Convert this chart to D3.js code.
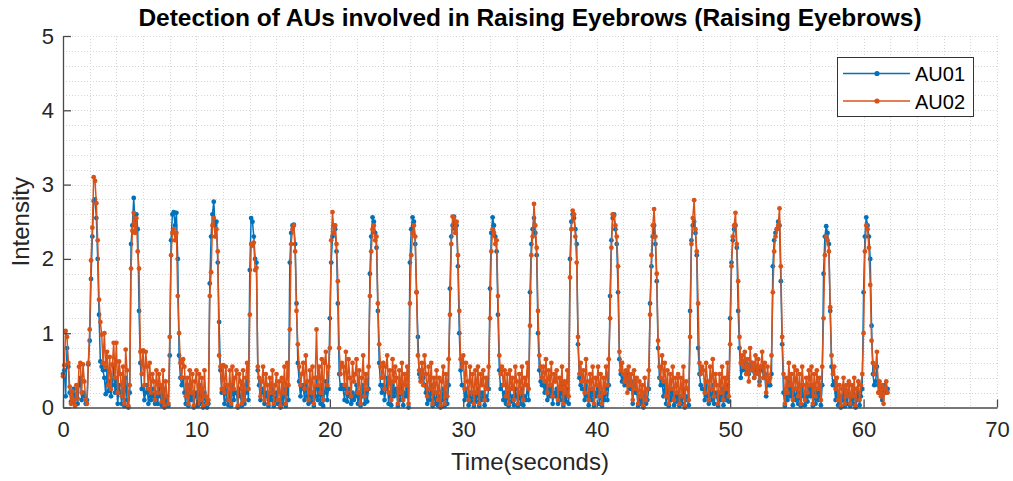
<!DOCTYPE html>
<html>
<head>
<meta charset="utf-8">
<script src="https://cdn.jsdelivr.net/npm/d3@7"></script>
<style>
  body { margin: 0; background: #ffffff; }
  text { font-family: "Liberation Sans", Arial, Helvetica, sans-serif; }
</style>
</head>
<body>
<svg id="chart" width="1013" height="481"></svg>
<script>
// Facial action unit intensities, sampled every 0.1 s (one row per second)
const sampleInterval = 0.1;

const au01 = [
  0.45,0.50,0.15,0.80,0.55,0.20,0.08,0.10,0.25,0.05,
  0.18,0.05,0.30,0.40,0.10,0.20,0.15,0.05,0.10,0.58,
  0.90,1.73,2.30,2.78,2.80,2.55,2.00,1.25,0.62,0.55,
  0.50,0.40,0.18,0.50,0.22,0.35,0.15,0.30,0.55,0.20,
  0.35,0.05,0.30,0.20,0.05,0.25,0.02,0.40,0.10,0.00,
  0.20,2.20,2.45,2.82,2.50,2.60,2.40,1.30,0.60,0.25,
  0.25,0.10,0.20,0.30,0.05,0.20,0.10,0.25,0.15,0.05,
  0.20,0.05,0.30,0.15,0.03,0.25,0.00,0.10,0.05,0.02,
  0.70,2.25,2.60,2.63,2.45,2.62,2.00,0.70,0.40,0.30,
  0.40,0.20,0.05,0.30,0.02,0.25,0.10,0.20,0.00,0.15,
  0.20,0.02,0.30,0.05,0.25,0.00,0.20,0.05,0.00,0.05,
  1.67,2.30,2.60,2.77,2.45,2.50,1.95,1.15,0.50,0.20,
  0.25,0.05,0.30,0.10,0.03,0.20,0.02,0.30,0.10,0.20,
  0.20,0.00,0.25,0.15,0.02,0.30,0.05,0.20,0.35,0.10,
  1.85,2.55,2.50,2.30,2.00,1.95,0.50,0.30,0.10,0.20,
  0.25,0.05,0.20,0.15,0.02,0.15,0.10,0.25,0.02,0.10,
  0.20,0.05,0.10,0.00,0.20,0.05,0.25,0.02,0.30,0.10,
  1.95,2.35,2.45,2.46,2.20,1.40,0.60,0.35,0.15,0.25,
  0.30,0.10,0.30,0.15,0.05,0.25,0.08,0.20,0.02,0.15,
  0.40,0.10,0.25,0.05,0.30,0.02,0.20,0.35,0.10,0.25,
  1.20,1.95,2.30,2.45,2.40,2.10,1.40,0.45,0.25,0.30,
  0.25,0.10,0.30,0.08,0.25,0.15,0.05,0.20,0.10,0.15,
  0.30,0.05,0.20,0.02,0.15,0.30,0.05,0.20,0.08,0.25,
  1.80,2.30,2.56,2.50,2.35,2.15,1.30,0.60,0.30,0.20,
  0.30,0.10,0.25,0.40,0.05,0.20,0.03,0.30,0.15,0.25,
  0.20,0.02,0.25,0.10,0.30,0.03,0.20,0.15,0.25,0.00,
  1.95,2.40,2.56,2.50,2.20,1.55,0.95,0.45,0.40,0.50,
  0.40,0.30,0.20,0.05,0.25,0.10,0.30,0.02,0.20,0.05,
  0.20,0.03,0.15,0.00,0.10,0.25,0.02,0.20,0.05,0.30,
  1.60,2.30,2.45,2.57,2.40,2.45,1.90,1.00,0.50,0.30,
  0.30,0.10,0.25,0.15,0.03,0.20,0.08,0.20,0.02,0.20,
  0.08,0.25,0.02,0.20,0.10,0.20,0.03,0.15,0.10,0.25,
  1.60,2.35,2.56,2.45,2.30,2.10,1.25,0.50,0.25,0.30,
  0.10,0.20,0.05,0.20,0.02,0.25,0.08,0.15,0.03,0.25,
  0.15,0.02,0.20,0.05,0.25,0.03,0.15,0.10,0.30,0.10,
  1.55,2.20,2.40,2.55,2.35,2.05,1.00,0.50,0.35,0.30,
  0.30,0.20,0.35,0.10,0.25,0.15,0.30,0.05,0.20,0.15,
  0.25,0.05,0.20,0.10,0.30,0.02,0.15,0.08,0.25,0.05,
  2.00,2.50,2.60,2.55,2.40,2.20,0.85,0.40,0.30,0.25,
  0.25,0.10,0.30,0.15,0.03,0.20,0.10,0.25,0.02,0.20,
  0.15,0.25,0.05,0.20,0.02,0.15,0.10,0.25,0.10,0.30,
  1.50,2.25,2.55,2.60,2.40,2.20,1.55,0.65,0.45,0.35,
  0.40,0.30,0.45,0.35,0.40,0.25,0.30,0.05,0.35,0.20,
  0.20,0.02,0.15,0.05,0.15,0.00,0.20,0.05,0.10,0.25,
  1.40,1.90,2.30,2.45,2.20,1.70,0.80,0.40,0.30,0.35,
  0.15,0.30,0.05,0.25,0.02,0.20,0.10,0.25,0.03,0.15,
  0.08,0.20,0.02,0.15,0.05,0.25,0.00,0.15,0.10,0.03,
  1.30,2.25,2.45,2.50,2.35,2.05,0.80,0.45,0.30,0.25,
  0.25,0.10,0.30,0.15,0.05,0.25,0.10,0.30,0.05,0.20,
  0.15,0.02,0.20,0.10,0.25,0.03,0.20,0.10,0.30,0.08,
  1.20,1.95,2.25,2.40,2.45,2.15,1.30,0.80,0.40,0.50,
  0.55,0.60,0.50,0.58,0.45,0.55,0.60,0.50,0.40,0.55,
  0.50,0.55,0.35,0.50,0.55,0.40,0.45,0.15,0.35,0.30,
  0.30,0.45,1.90,2.25,2.35,2.40,2.50,2.45,1.70,0.85,
  0.20,0.02,0.20,0.10,0.35,0.15,0.25,0.03,0.25,0.10,
  0.25,0.05,0.20,0.02,0.30,0.15,0.03,0.20,0.08,0.25,
  0.15,0.30,0.02,0.20,0.05,0.25,0.10,0.20,0.03,0.30,
  1.80,2.30,2.44,2.35,2.20,1.30,0.55,0.30,0.35,0.10,
  0.20,0.03,0.15,0.00,0.10,0.25,0.02,0.15,0.05,0.30,
  0.02,0.15,0.05,0.25,0.00,0.10,0.20,0.03,0.15,0.25,
  1.55,2.30,2.56,2.45,2.30,2.00,1.10,0.45,0.30,0.35,
  0.55,0.30,0.20,0.25,0.10,0.25,0.30,0.20,0.25
];

const au02 = [
  0.42,0.57,1.03,0.95,0.60,0.28,0.05,0.22,0.10,0.02,
  0.30,0.12,0.55,0.60,0.20,0.58,0.35,0.10,0.05,0.60,
  1.05,1.98,2.42,3.10,3.05,2.75,2.25,1.45,1.15,0.98,
  0.60,1.00,0.55,0.75,0.30,0.68,0.25,0.58,0.87,0.40,
  0.87,0.20,0.62,0.45,0.15,0.55,0.05,0.78,0.50,0.02,
  0.30,1.87,2.38,2.62,2.35,2.55,2.10,1.87,0.75,0.45,
  0.77,0.30,0.75,0.55,0.25,0.60,0.20,0.45,0.35,0.10,
  0.50,0.20,0.45,0.30,0.08,0.50,0.02,0.35,0.15,0.05,
  0.95,2.05,2.35,2.40,2.25,2.35,1.50,1.00,0.60,0.40,
  0.65,0.55,0.15,0.40,0.05,0.50,0.20,0.45,0.02,0.35,
  0.50,0.05,0.45,0.10,0.40,0.02,0.50,0.15,0.05,0.10,
  1.50,1.82,2.45,2.55,2.30,2.40,2.10,0.70,0.55,0.25,
  0.57,0.20,0.55,0.30,0.10,0.50,0.05,0.55,0.25,0.40,
  0.50,0.02,0.45,0.35,0.05,0.50,0.10,0.40,0.60,0.25,
  1.25,2.20,2.18,2.22,1.85,1.88,0.55,0.40,0.15,0.35,
  0.55,0.10,0.45,0.30,0.05,0.40,0.20,0.50,0.05,0.30,
  0.45,0.10,0.35,0.02,0.40,0.20,0.55,0.05,0.60,0.30,
  1.05,2.20,2.40,2.45,2.10,1.30,0.85,0.55,0.30,0.45,
  0.60,0.25,0.70,0.35,0.10,0.50,0.20,0.55,0.05,0.40,
  1.05,0.30,0.55,0.20,0.65,0.10,0.60,0.75,0.30,0.55,
  0.80,2.25,2.63,2.35,2.45,2.20,1.70,0.80,0.45,0.60,
  0.55,0.30,0.75,0.20,0.65,0.40,0.15,0.60,0.35,0.45,
  0.65,0.20,0.50,0.05,0.40,0.70,0.15,0.45,0.25,0.55,
  1.50,2.10,2.40,2.45,2.25,2.30,1.40,0.85,0.55,0.40,
  0.60,0.25,0.55,0.70,0.20,0.50,0.10,0.65,0.35,0.55,
  0.40,0.05,0.50,0.20,0.60,0.10,0.45,0.30,0.55,0.05,
  1.40,2.05,2.35,2.45,2.30,1.55,0.70,0.50,0.35,0.60,
  0.30,0.70,0.45,0.15,0.55,0.25,0.60,0.05,0.40,0.20,
  0.50,0.10,0.40,0.02,0.35,0.55,0.05,0.45,0.15,0.65,
  1.25,2.20,2.57,2.55,2.35,2.50,2.05,1.30,0.65,0.55,
  0.70,0.25,0.60,0.35,0.10,0.55,0.20,0.45,0.05,0.50,
  0.20,0.55,0.05,0.45,0.30,0.50,0.10,0.40,0.25,0.55,
  1.20,2.10,2.40,2.35,2.20,2.25,1.50,0.70,0.45,0.55,
  0.30,0.50,0.15,0.45,0.05,0.50,0.25,0.40,0.10,0.55,
  0.35,0.05,0.45,0.20,0.55,0.10,0.40,0.30,0.60,0.25,
  1.10,2.05,2.30,2.74,2.45,2.15,1.30,0.70,0.55,0.40,
  0.55,0.35,0.65,0.20,0.50,0.30,0.60,0.15,0.45,0.35,
  0.50,0.10,0.40,0.25,0.55,0.05,0.35,0.20,0.50,0.15,
  1.75,2.40,2.65,2.60,2.30,1.95,0.95,0.45,0.60,0.35,
  0.50,0.20,0.65,0.35,0.10,0.45,0.25,0.55,0.05,0.40,
  0.30,0.55,0.15,0.45,0.05,0.40,0.20,0.55,0.30,0.65,
  1.20,2.15,2.60,2.58,2.45,2.30,1.90,0.75,0.50,0.60,
  0.45,0.35,0.50,0.20,0.55,0.30,0.45,0.10,0.50,0.25,
  0.40,0.05,0.35,0.15,0.30,0.02,0.40,0.10,0.25,0.50,
  1.25,2.05,2.45,2.67,2.30,1.80,0.90,0.55,0.40,0.70,
  0.35,0.60,0.15,0.50,0.05,0.45,0.25,0.55,0.10,0.40,
  0.20,0.45,0.05,0.40,0.15,0.55,0.02,0.35,0.25,0.10,
  0.95,2.20,2.55,2.79,2.40,2.10,1.40,0.60,0.45,0.55,
  0.50,0.20,0.60,0.35,0.10,0.55,0.25,0.65,0.15,0.45,
  0.30,0.05,0.45,0.20,0.55,0.10,0.40,0.25,0.60,0.15,
  0.85,1.90,2.30,2.45,2.62,2.20,1.70,0.95,0.60,0.70,
  0.55,0.75,0.45,0.65,0.35,0.80,0.50,0.60,0.40,0.70,
  0.45,0.65,0.30,0.55,0.75,0.40,0.60,0.20,0.55,0.35,
  0.40,0.70,1.55,2.10,2.30,2.40,2.45,2.68,1.90,0.95,
  0.45,0.05,0.40,0.20,0.60,0.30,0.45,0.10,0.55,0.25,
  0.50,0.15,0.45,0.05,0.55,0.30,0.10,0.40,0.20,0.50,
  0.30,0.55,0.05,0.45,0.15,0.50,0.25,0.40,0.10,0.55,
  1.20,2.05,2.30,2.25,2.10,1.35,0.70,0.45,0.55,0.25,
  0.40,0.10,0.30,0.02,0.25,0.40,0.05,0.30,0.15,0.35,
  0.05,0.30,0.15,0.40,0.02,0.25,0.35,0.10,0.30,0.45,
  1.00,2.10,2.45,2.40,2.15,1.65,0.90,0.60,0.45,0.55,
  0.75,0.20,0.35,0.15,0.30,0.05,0.25,0.35,0.20
];

const seriesNames = ["AU01", "AU02"];
const seriesColors = ["#0072BD", "#D95319"];
const xTicks = [0, 10, 20, 30, 40, 50, 60, 70];
const yTicks = [0, 1, 2, 3, 4, 5];

const titleText = "Detection of AUs involved in Raising Eyebrows (Raising Eyebrows)";
const xLabelText = "Time(seconds)";
const yLabelText = "Intensity";

const svg = d3.select("#chart");
const margin = { left: 63, right: 16, top: 36, bottom: 73.5 };
const W = 1013, H = 481;

const x = d3.scaleLinear().domain([0, 70]).range([margin.left, W - margin.right]);
const y = d3.scaleLinear().domain([0, 5]).range([H - margin.bottom, margin.top]);

// dotted grid (major + minor)
const grid = svg.append("g").attr("class", "grid")
  .attr("stroke", "#d6d6d6").attr("stroke-width", 1).attr("stroke-dasharray", "1,2");
grid.selectAll("line.gx").data(d3.range(2, 70.001, 2)).join("line")
  .attr("x1", d => Math.round(x(d)) + 0.5).attr("x2", d => Math.round(x(d)) + 0.5)
  .attr("y1", y(5)).attr("y2", y(0));
grid.selectAll("line.gy").data(d3.range(1, 26).map(i => i * 0.2)).join("line")
  .attr("x1", x(0)).attr("x2", x(70))
  .attr("y1", d => Math.round(y(d)) + 0.5).attr("y2", d => Math.round(y(d)) + 0.5);

// series lines with point markers
const seriesData = [au01, au02];
const line = d3.line()
  .x((d, i) => x(i * sampleInterval))
  .y(d => y(d));
seriesData.forEach((vals, k) => {
  const g = svg.append("g").attr("class", "series");
  g.append("path").datum(vals)
    .attr("fill", "none").attr("stroke", seriesColors[k])
    .attr("stroke-width", 1.5).attr("stroke-linejoin", "round")
    .attr("d", line);
  g.selectAll("circle").data(vals).join("circle")
    .attr("cx", (d, i) => x(i * sampleInterval))
    .attr("cy", d => y(d))
    .attr("r", 2.4)
    .attr("fill", seriesColors[k]);
});

// axes (ticks point inward)
const axisColor = "#4a4a4a";
const xAxis = svg.append("g").attr("transform", `translate(0,${y(0)})`)
  .call(d3.axisBottom(x).tickValues(xTicks).tickFormat(d3.format("d"))
    .tickSizeInner(-8).tickSizeOuter(0).tickPadding(10));
const yAxis = svg.append("g").attr("transform", `translate(${x(0)},0)`)
  .call(d3.axisLeft(y).tickValues(yTicks).tickFormat(d3.format("d"))
    .tickSizeInner(-8).tickSizeOuter(0).tickPadding(9));
[xAxis, yAxis].forEach(a => {
  a.select(".domain").attr("stroke", axisColor).attr("stroke-width", 1.3);
  a.selectAll(".tick line").attr("stroke", axisColor).attr("stroke-width", 1.3);
  a.selectAll(".tick text").attr("fill", "#262626")
    .style("font-family", "'Liberation Sans', Arial, sans-serif").style("font-size", "22px");
});
xAxis.selectAll(".tick text").attr("dy", "0.9em");

// title and axis labels
svg.append("text").attr("x", (x(0) + x(70)) / 2).attr("y", 26)
  .attr("text-anchor", "middle").attr("font-weight", "bold")
  .attr("font-size", 24.5).attr("fill", "#000").text(titleText);
svg.append("text").attr("x", (x(0) + x(70)) / 2).attr("y", 470)
  .attr("text-anchor", "middle").attr("font-size", 24).attr("fill", "#262626").text(xLabelText);
svg.append("text").attr("transform", `translate(29,${(y(0) + y(5)) / 2}) rotate(-90)`)
  .attr("text-anchor", "middle").attr("font-size", 24).attr("fill", "#262626").text(yLabelText);

// legend
const lg = svg.append("g").attr("class", "legend");
lg.append("rect").attr("x", 837.5).attr("y", 57.5).attr("width", 136).attr("height", 59)
  .attr("fill", "#fff").attr("stroke", "#333").attr("stroke-width", 1);
seriesNames.forEach((name, k) => {
  const cy = 73.5 + k * 27.5;
  lg.append("line").attr("x1", 843).attr("x2", 910).attr("y1", cy).attr("y2", cy)
    .attr("stroke", seriesColors[k]).attr("stroke-width", 1.4);
  lg.append("circle").attr("cx", 877).attr("cy", cy).attr("r", 2.6).attr("fill", seriesColors[k]);
  lg.append("text").attr("x", 915).attr("y", cy + 7.5).attr("font-size", 20)
    .attr("fill", "#000").text(name);
});
</script>
</body>
</html>
